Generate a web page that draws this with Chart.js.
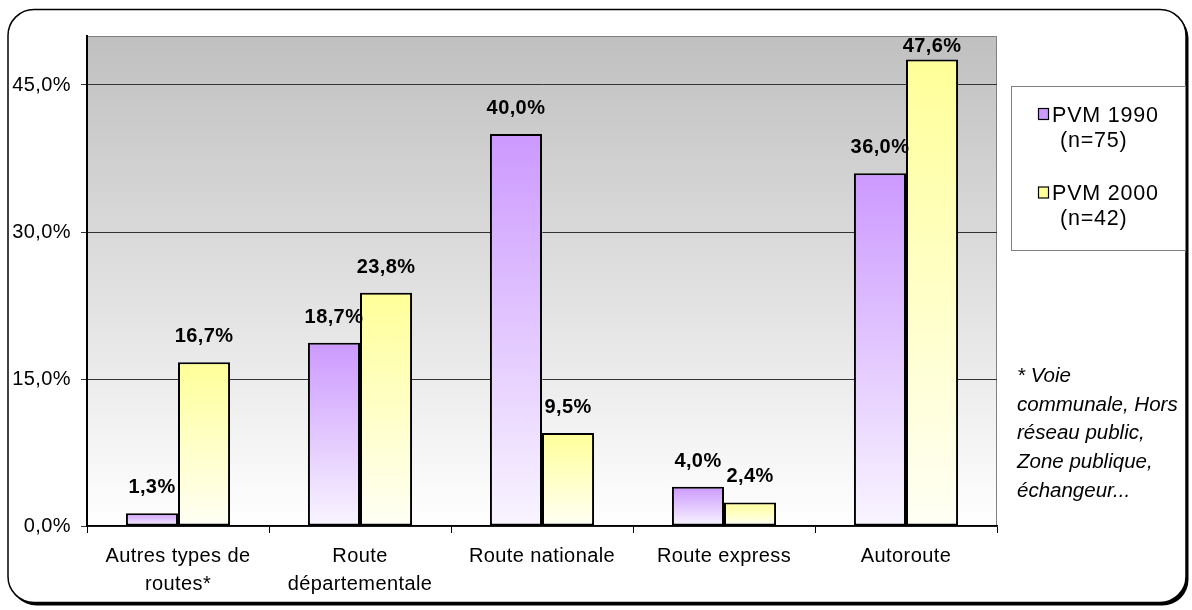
<!DOCTYPE html>
<html>
<head>
<meta charset="utf-8">
<script src="https://cdn.jsdelivr.net/npm/chart.js@4"></script>
<style>
  html, body { margin: 0; padding: 0; background: #fff; }
  #wrap { position: relative; width: 1192px; height: 610px; }
</style>
</head>
<body>
<div id="wrap"><canvas id="chart"></canvas></div>
<script>
// Road type of the accident site, share of cases per survey
const categories = [['Autres types de', 'routes*'], ['Route', 'départementale'], 'Route nationale', 'Route express', 'Autoroute'];
const pvm1990 = [1.3, 18.7, 40.0, 4.0, 36.0];
const pvm2000 = [16.7, 23.8, 9.5, 2.4, 47.6];
const seriesLabels = [['PVM 1990', '(n=75)'], ['PVM 2000', '(n=42)']];
const yTicks = [0, 15, 30, 45];
const footnote = ['* Voie', 'communale, Hors', 'réseau public,', 'Zone publique,', 'échangeur...'];

const FONT = "'Liberation Sans', Arial, sans-serif";
const PURPLE = '#cc99ff';
const YELLOW = '#ffff99';

Chart.defaults.font.family = FONT;
Chart.defaults.color = '#000';

const pct = v => v.toFixed(1).replace('.', ',') + '%';

// each bar fades from its colour at the top to near white at the base
function barFill(color, light) {
  return ctx => {
    const chart = ctx.chart;
    if (!chart.chartArea || ctx.type !== 'data') return color;
    const y = chart.scales.y;
    const top = y.getPixelForValue(ctx.raw);
    const base = y.getPixelForValue(0);
    if (base - top < 1) return color;
    const g = chart.ctx.createLinearGradient(0, top, 0, base);
    g.addColorStop(0, color);
    g.addColorStop(1, light);
    return g;
  };
}

const decor = {
  id: 'decor',
  beforeDraw(chart) {
    const c = chart.ctx, a = chart.chartArea;
    c.save();
    // rounded outer frame with a dark drop shadow
    c.fillStyle = '#000';
    c.beginPath(); c.roundRect(10.5, 12.5, 1178, 593, 26); c.fill();
    c.fillStyle = '#fff'; c.strokeStyle = '#000'; c.lineWidth = 1.5;
    c.beginPath(); c.roundRect(8, 9.5, 1178, 593, 26); c.fill(); c.stroke();
    // plot background: grey at the top fading to white
    const g = c.createLinearGradient(0, a.top, 0, a.bottom);
    g.addColorStop(0, '#c0c0c0');
    g.addColorStop(1, '#ffffff');
    c.fillStyle = g;
    c.fillRect(a.left, a.top, a.right - a.left, a.bottom - a.top);
    c.strokeStyle = '#808080'; c.lineWidth = 1;
    c.beginPath();
    c.moveTo(a.left, a.top + 0.5);
    c.lineTo(a.right - 0.5, a.top + 0.5);
    c.lineTo(a.right - 0.5, a.bottom);
    c.stroke();
    c.restore();
    // slightly looser text for the axis labels
    c.letterSpacing = '0.4px';
  },
  afterDatasetsDraw(chart) {
    const c = chart.ctx, a = chart.chartArea;
    c.save();
    c.font = 'bold 20px ' + FONT;
    c.fillStyle = '#000';
    c.textAlign = 'center';
    c.textBaseline = 'alphabetic';
    chart.data.datasets.forEach((ds, i) => {
      chart.getDatasetMeta(i).data.forEach((bar, j) => {
        const y = Math.max(bar.y - 20, a.top + 16);
        c.fillText(pct(ds.data[j]), bar.x, y);
      });
    });
    c.restore();
  },
  afterDraw(chart) {
    const c = chart.ctx;
    c.save();
    // legend box
    c.fillStyle = '#fff'; c.strokeStyle = '#808080'; c.lineWidth = 1;
    c.fillRect(1011.5, 86.5, 174, 164);
    c.strokeRect(1011.5, 86.5, 174, 164);
    c.font = '21.5px ' + FONT;
    c.letterSpacing = '0.8px';
    c.textBaseline = 'alphabetic';
    chart.data.datasets.forEach((ds, i) => {
      const base = 121.5 + i * 78.5;
      c.fillStyle = ds.swatch;
      c.fillRect(1038.5, base - 13, 10, 11);
      c.strokeStyle = '#000'; c.lineWidth = 1.2;
      c.strokeRect(1038.5, base - 13, 10, 11);
      c.fillStyle = '#000';
      c.fillText(seriesLabels[i][0], 1052, base);
      c.fillText(seriesLabels[i][1], 1060, base + 25);
    });
    // footnote for the first category
    c.font = 'italic 20.5px ' + FONT;
    c.letterSpacing = '0px';
    footnote.forEach((line, k) => c.fillText(line, 1017, 382 + k * 28.7));
    c.restore();
  }
};

new Chart(document.getElementById('chart'), {
  type: 'bar',
  data: {
    labels: categories,
    datasets: [
      {
        label: seriesLabels[0].join(' '),
        data: pvm1990,
        swatch: PURPLE,
        backgroundColor: barFill(PURPLE, '#f9f5ff'),
        borderColor: '#000',
        borderWidth: 2,
        borderSkipped: false,
        categoryPercentage: 0.572,
        barPercentage: 1
      },
      {
        label: seriesLabels[1].join(' '),
        data: pvm2000,
        swatch: YELLOW,
        backgroundColor: barFill(YELLOW, '#fffff5'),
        borderColor: '#000',
        borderWidth: 2,
        borderSkipped: false,
        categoryPercentage: 0.572,
        barPercentage: 1
      }
    ]
  },
  options: {
    responsive: true,
    maintainAspectRatio: false,
    animation: false,
    layout: { padding: { left: 0, right: 195, top: 36, bottom: 0 } },
    plugins: { legend: { display: false }, tooltip: { enabled: false } },
    scales: {
      x: {
        grid: { offset: true, drawOnChartArea: false, tickLength: 7, color: '#000', lineWidth: 1 },
        border: { color: '#000', width: 1.5 },
        ticks: { font: { size: 20, lineHeight: 1.4 }, color: '#000', padding: 9, maxRotation: 0, autoSkip: false },
        afterFit: s => { s.height = 84; }
      },
      y: {
        min: 0,
        max: 50,
        afterBuildTicks: s => { s.ticks = yTicks.map(v => ({ value: v })); },
        grid: { color: '#333', lineWidth: 1, tickLength: 6 },
        border: { color: '#000', width: 2 },
        ticks: { font: { size: 20 }, color: '#000', padding: 10, callback: v => pct(v) },
        afterFit: s => { s.width = 87; }
      }
    }
  },
  plugins: [decor]
});
</script>
</body>
</html>
